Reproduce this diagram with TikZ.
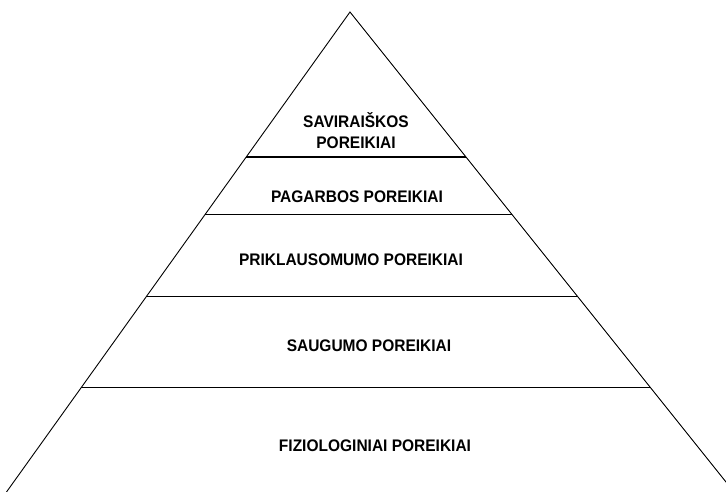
\documentclass[tikz,border=0pt]{standalone}
\usepackage{fontspec}
\setmainfont{Liberation Sans}
\usetikzlibrary{calc}
\tikzset{
  edge line/.style={line width=0.9pt},
  level line/.style={line width=1.1pt},
  level label/.style={font=\bfseries\fontsize{15.5}{20}\selectfont, align=center, anchor=base, inner sep=0pt, yscale=1.08}
}

\begin{document}
\begin{tikzpicture}[x=1pt, y=1pt]
  \useasboundingbox (0,0) rectangle (726,492);
  \clip (0,0) rectangle (726,492);
  \coordinate (apex) at (350,480);
  \coordinate (lfoot) at (6.5,0);
  \coordinate (rfoot) at (734,0);
  \draw[edge line] (lfoot) -- (apex) -- (rfoot);
  % dividing lines between the levels
  \foreach \t/\lvl in {0.302/l1, 0.421/l2, 0.592/l3, 0.783/l4}{
    \draw[level line] ($(apex)!\t!(lfoot)$) coordinate (\lvl-w) -- ($(apex)!\t!(rfoot)$) coordinate (\lvl-e);
  }
  \node[level label] (self) at (356,343) {SAVIRAIŠKOS\\POREIKIAI};
  \node[level label] (esteem) at (357,289) {PAGARBOS POREIKIAI};
  \node[level label] (belong) at (351,226) {PRIKLAUSOMUMO POREIKIAI};
  \node[level label] (safety) at (369,140) {SAUGUMO POREIKIAI};
  \node[level label] (physio) at (375,40) {FIZIOLOGINIAI POREIKIAI};
\end{tikzpicture}
\end{document}
